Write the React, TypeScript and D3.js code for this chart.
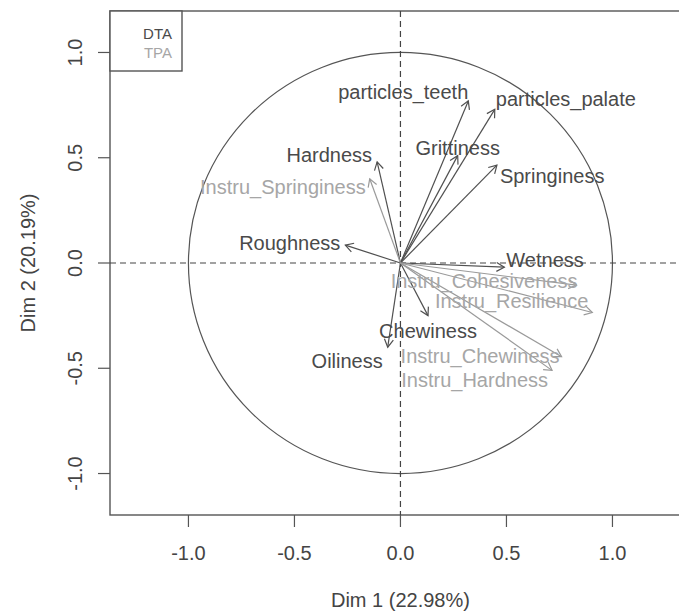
import React from "react";
import * as d3 from "d3";

const variables = [
  "particles_teeth", "particles_palate", "Grittiness", "Springiness", "Wetness",
  "Hardness", "Roughness", "Chewiness", "Oiliness",
  "Instru_Springiness", "Instru_Cohesiveness", "Instru_Resilience", "Instru_Chewiness", "Instru_Hardness",
];
const dim1 = [0.32, 0.445, 0.27, 0.455, 0.49, -0.11, -0.26, 0.13, -0.06, -0.145, 0.83, 0.905, 0.76, 0.715];
const dim2 = [0.77, 0.73, 0.51, 0.465, -0.02, 0.48, 0.085, -0.25, -0.40, 0.40, -0.105, -0.235, -0.445, -0.51];
const groups = ["DTA", "DTA", "DTA", "DTA", "DTA", "DTA", "DTA", "DTA", "DTA", "TPA", "TPA", "TPA", "TPA", "TPA"];
const tickValues = [-1.0, -0.5, 0.0, 0.5, 1.0];
const legendLabels = ["DTA", "TPA"];
const xTitle = "Dim 1 (22.98%)";
const yTitle = "Dim 2 (20.19%)";

// label placement (layout only): anchor and pixel offset relative to arrow tip
const labelLayout: Record<string, { a: "start" | "middle" | "end"; dx: number; dy: number }> = {
  particles_teeth: { a: "end", dx: 0, dy: -2 },
  particles_palate: { a: "start", dx: 1, dy: -3 },
  Grittiness: { a: "middle", dx: 0, dy: -1 },
  Springiness: { a: "start", dx: 3, dy: 18 },
  Wetness: { a: "start", dx: 2, dy: 0 },
  Hardness: { a: "end", dx: -5, dy: 0 },
  Roughness: { a: "end", dx: -5, dy: 5 },
  Chewiness: { a: "middle", dx: 0, dy: 22 },
  Oiliness: { a: "end", dx: -5, dy: 21 },
  Instru_Springiness: { a: "end", dx: -4, dy: 15 },
  Instru_Cohesiveness: { a: "end", dx: 1, dy: 3 },
  Instru_Resilience: { a: "end", dx: -4, dy: -4 },
  Instru_Chewiness: { a: "end", dx: -2, dy: 6 },
  Instru_Hardness: { a: "end", dx: -4, dy: 17 },
};

const colors: Record<string, { line: string; text: string }> = {
  DTA: { line: "#505050", text: "#4a4a4a" },
  TPA: { line: "#9a9a9a", text: "#a6a6a6" },
};

const W = 679;
const H = 613;
const FONT = "'Liberation Sans', Arial, Helvetica, sans-serif";
const fmt = (t: number) => d3.format(".1f")(t).replace("\u2212", "-");

export default function App() {
  const x = d3.scaleLinear().domain([-1.37, 1.37]).range([110, 690.9]);
  const y = d3.scaleLinear().domain([-1.197, 1.197]).range([515, 11]);
  const x0 = x(0);
  const y0 = y(0);

  const headLen = 9;
  const headAng = Math.PI / 6;

  return (
    <svg
      width={W}
      height={H}
      style={{ position: "absolute", left: 0, top: 0, background: "#fff" }}
      fontFamily={FONT}
    >
      {/* plot box */}
      <rect x={x(-1.37)} y={y(1.197)} width={x(1.37) - x(-1.37)} height={y(-1.197) - y(1.197)}
        fill="none" stroke="#555" strokeWidth={1.4} />
      {/* unit circle */}
      <ellipse cx={x0} cy={y0} rx={x(1) - x0} ry={y0 - y(1)} fill="none" stroke="#555" strokeWidth={1.2} />
      {/* dashed axes */}
      <line x1={x(-1.37)} x2={x(1.37)} y1={y0} y2={y0} stroke="#444" strokeWidth={1.2} strokeDasharray="6,4" />
      <line x1={x0} x2={x0} y1={y(1.197)} y2={y(-1.197)} stroke="#444" strokeWidth={1.2} strokeDasharray="6,4" />

      {/* arrows */}
      {variables.map((v, i) => {
        const tx = x(dim1[i]);
        const ty = y(dim2[i]);
        const ang = Math.atan2(ty - y0, tx - x0);
        const h1x = tx - headLen * Math.cos(ang - headAng);
        const h1y = ty - headLen * Math.sin(ang - headAng);
        const h2x = tx - headLen * Math.cos(ang + headAng);
        const h2y = ty - headLen * Math.sin(ang + headAng);
        const c = colors[groups[i]];
        return (
          <g key={v} stroke={c.line} strokeWidth={1.2} fill="none">
            <line x1={x0} y1={y0} x2={tx} y2={ty} />
            <polyline points={`${h1x},${h1y} ${tx},${ty} ${h2x},${h2y}`} />
          </g>
        );
      })}
      {/* labels */}
      {variables.map((v, i) => {
        const tx = x(dim1[i]);
        const ty = y(dim2[i]);
        const L = labelLayout[v];
        const c = colors[groups[i]];
        return (
          <text key={v} x={tx + L.dx} y={ty + L.dy} textAnchor={L.a} fontSize={20} fill={c.text}>
            {v}
          </text>
        );
      })}

      {/* x axis ticks */}
      {tickValues.map((t) => (
        <g key={"xt" + t}>
          <line x1={x(t)} x2={x(t)} y1={515} y2={527} stroke="#555" strokeWidth={1.2} />
          <text x={x(t)} y={560} textAnchor="middle" fontSize={20} fill="#444">{fmt(t)}</text>
        </g>
      ))}
      {/* y axis ticks */}
      {tickValues.map((t) => (
        <g key={"yt" + t}>
          <line x1={110} x2={98} y1={y(t)} y2={y(t)} stroke="#555" strokeWidth={1.2} />
          <text transform={`translate(82,${y(t)}) rotate(-90)`} textAnchor="middle" fontSize={20} fill="#444">
            {fmt(t)}
          </text>
        </g>
      ))}

      {/* axis titles */}
      <text x={x0} y={607} textAnchor="middle" fontSize={20} fill="#444">{xTitle}</text>
      <text transform={`translate(35,${y0}) rotate(-90)`} textAnchor="middle" fontSize={20} fill="#444">{yTitle}</text>

      {/* legend */}
      <rect x={110} y={11} width={72} height={60} fill="#fff" stroke="#555" strokeWidth={1.4} />
      {legendLabels.map((l, i) => (
        <text key={l} x={172} y={39 + i * 19} textAnchor="end" fontSize={15} fill={colors[l].text}>{l}</text>
      ))}
    </svg>
  );
}
